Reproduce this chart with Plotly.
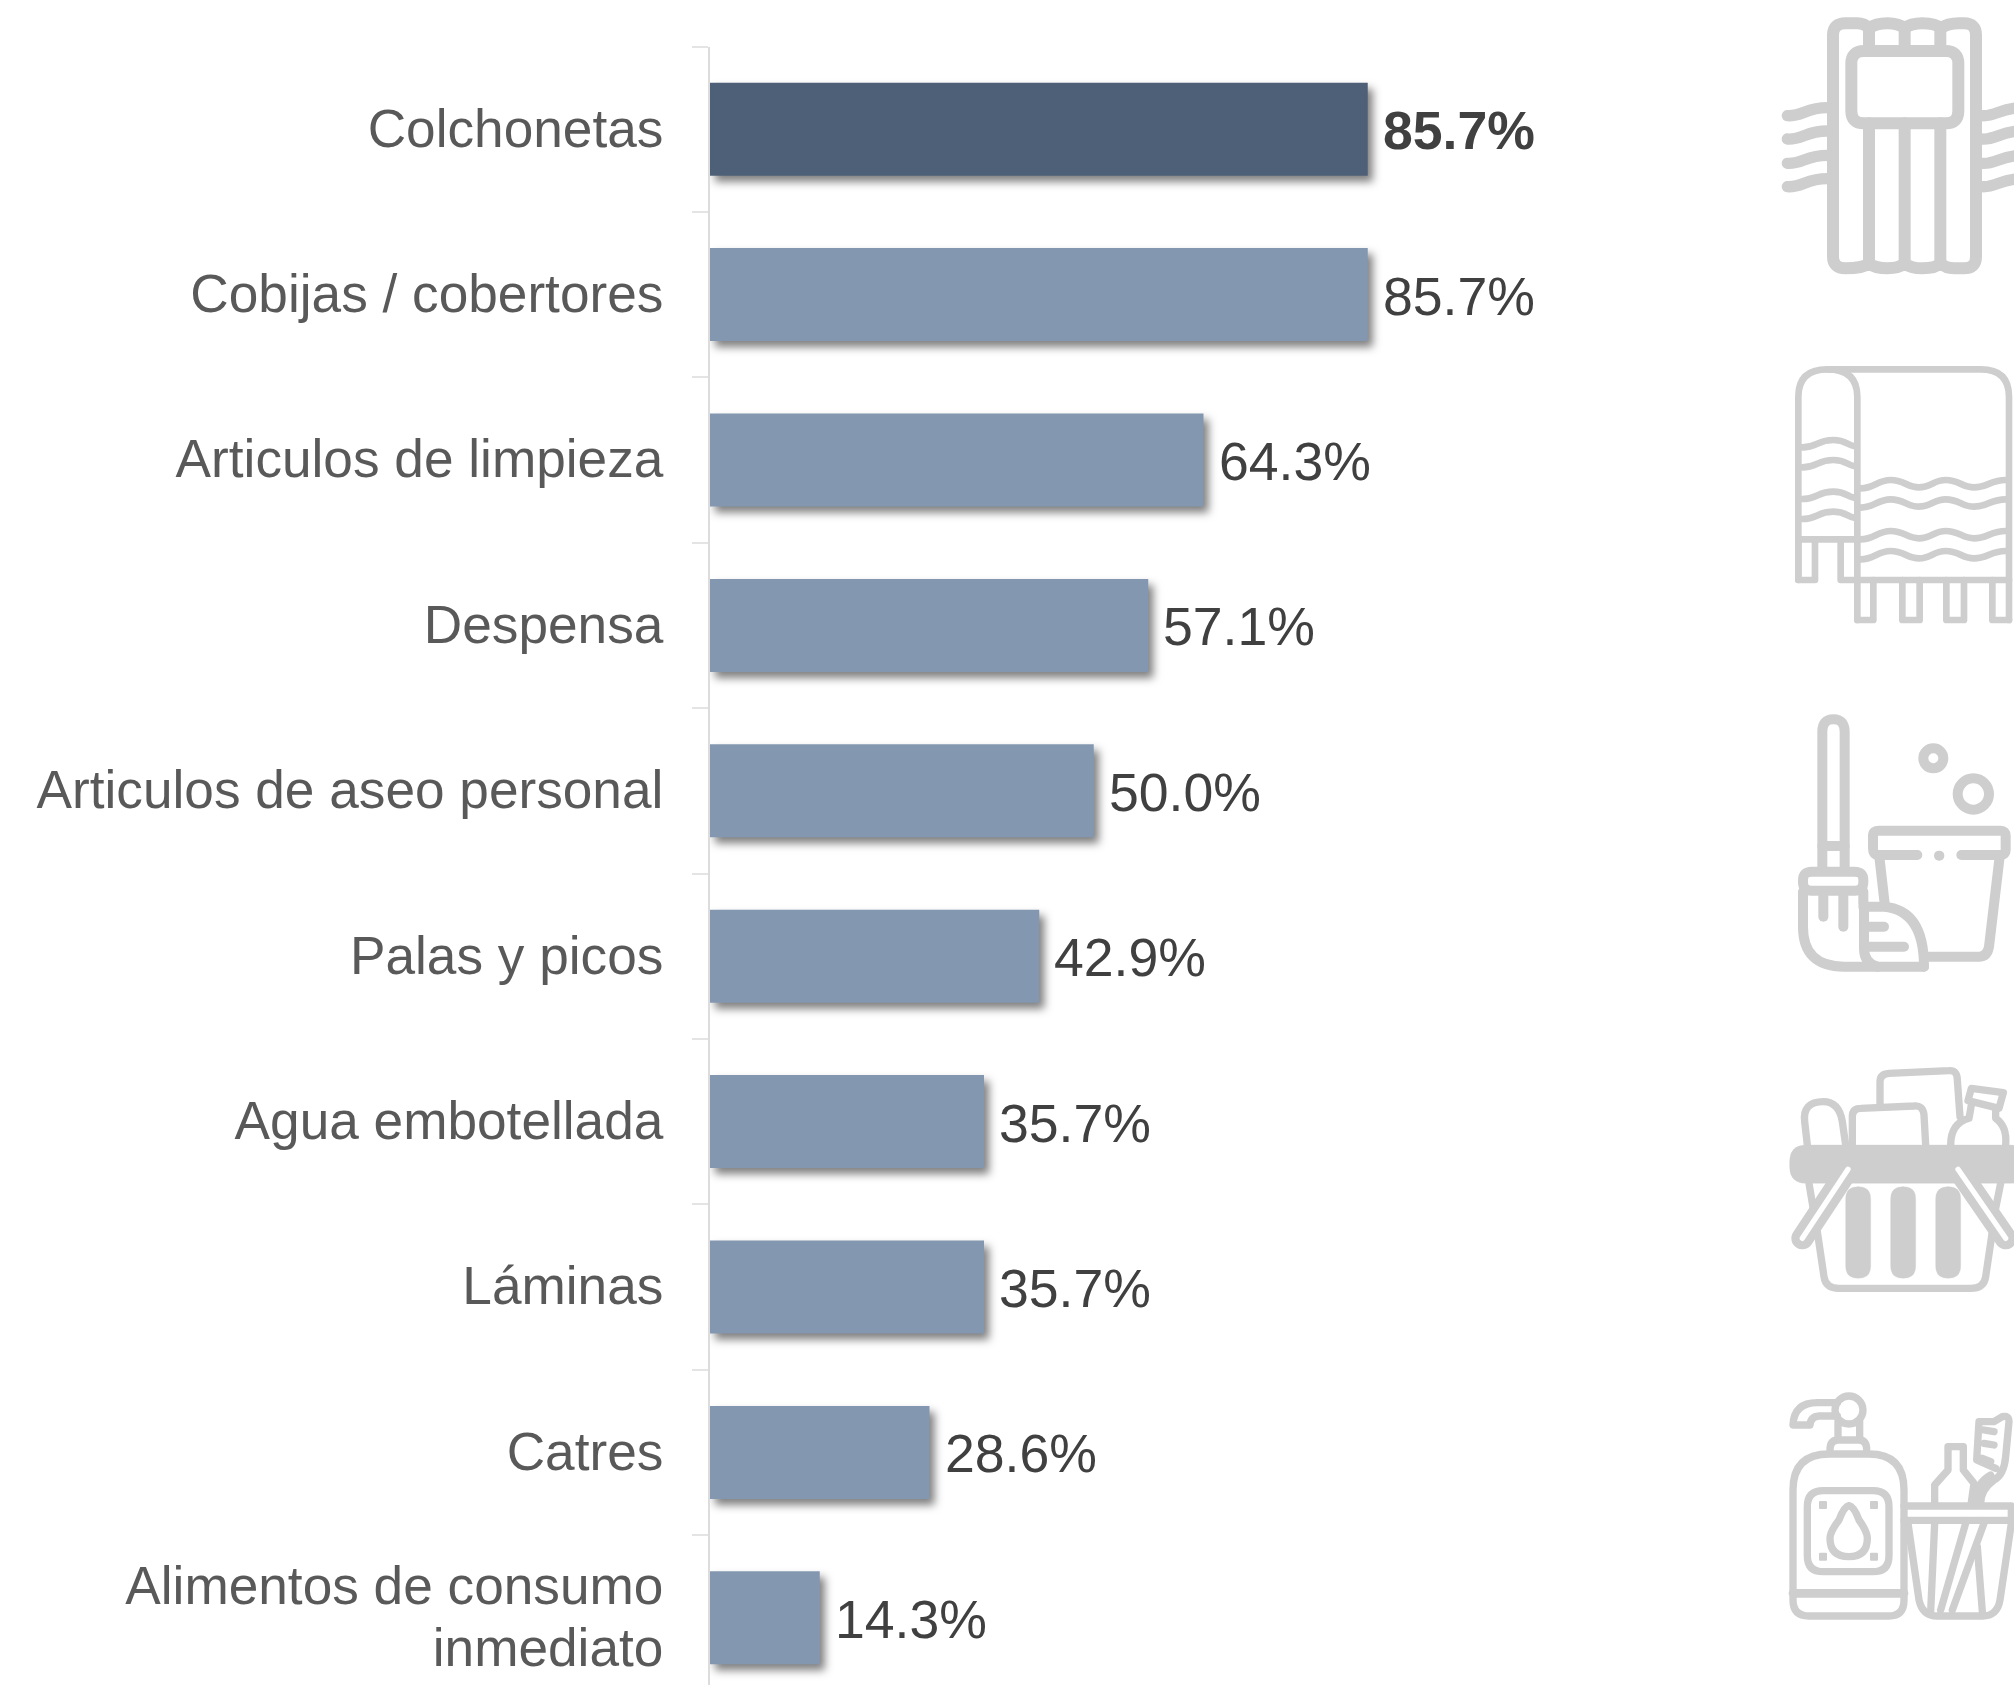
import re
import plotly.graph_objects as go

categories = ["Colchonetas", "Cobijas / cobertores", "Articulos de limpieza", "Despensa",
              "Articulos de aseo personal", "Palas y picos", "Agua embotellada", "Láminas",
              "Catres", "Alimentos de consumo<br>inmediato"]
values = [85.7, 85.7, 64.3, 57.1, 50.0, 42.9, 35.7, 35.7, 28.6, 14.3]
highlight = [True, False, False, False, False, False, False, False, False, False]

W, H = 2014, 1685
DARK, LIGHT = "#4E6077", "#8497B0"
ICON = "#CECECE"
FONT = "Liberation Sans"
AXIS_X, AXIS_TOP, BAND = 710.0, 46.5, 165.4
PX_PER_UNIT = 7.675


def to_paper(path, x0, y0):
    """Icon outlines are written in 3x zoom units from the origin (x0, y0)."""
    out, is_x = [], True
    for tok in re.findall(r"[MLCQZ]|[\d.]+", path):
        if tok in "MLCQZ":
            out.append(" " + tok)
            is_x = True
        else:
            if is_x:
                out.append(f"{(x0 + float(tok) / 3) / W:.5f}")
            else:
                out.append(f",{1 - (y0 + float(tok) / 3) / H:.5f} ")
            is_x = not is_x
    return "".join(out).strip()


def circle(cx, cy, r):
    k = 0.5523 * r
    return (f"M{cx - r},{cy} C{cx - r},{cy - k} {cx - k},{cy - r} {cx},{cy - r} "
            f"C{cx + k},{cy - r} {cx + r},{cy - k} {cx + r},{cy} "
            f"C{cx + r},{cy + k} {cx + k},{cy + r} {cx},{cy + r} "
            f"C{cx - k},{cy + r} {cx - r},{cy + k} {cx - r},{cy} Z")


def rrect(x1, y1, x2, y2, r):
    return (f"M{x1 + r},{y1} L{x2 - r},{y1} Q{x2},{y1} {x2},{y1 + r} L{x2},{y2 - r} Q{x2},{y2} {x2 - r},{y2} "
            f"L{x1 + r},{y2} Q{x1},{y2} {x1},{y2 - r} L{x1},{y1 + r} Q{x1},{y1} {x1 + r},{y1} Z")


shapes = []


def icon(y0, items):
    for it in items:
        path, width = it[0], it[1]
        fill = it[2] if len(it) > 2 else None
        color = it[3] if len(it) > 3 else ICON
        s = dict(type="path", xref="paper", yref="paper", path=to_paper(path, 1774, y0), layer="above",
                 line=dict(color=color, width=width / 3))
        if fill:
            s["fillcolor"] = fill
        shapes.append(s)


# Icon 1: mattress
m = 36
items = [("M177,770 L177,105 Q177,70 215,70 L250,70 Q272,70 285,85 Q305,70 340,70 Q375,70 392,85 Q410,70 445,70 "
          "Q485,70 500,85 Q520,70 555,70 L570,70 Q606,70 606,105 L606,770 Q606,805 570,805 L540,805 Q515,805 500,790 "
          "Q485,805 445,805 Q410,805 392,790 Q375,805 340,805 Q305,805 285,790 Q265,805 215,805 Q177,805 177,770 Z", m)]
for x in (285, 392, 499):
    items += [(f"M{x},85 L{x},150", m), (f"M{x},370 L{x},790", m)]
items.append((rrect(232, 153, 553, 370, 38), m))
for y in (347, 417, 490, 560):
    items.append((f"M40,{y} C85,{y + 3} 95,{y - 24} 160,{y - 24}", 34))
    items.append((f"M625,{y} C665,{y + 3} 680,{y - 24} 745,{y - 24}", 34))
icon(0, items)

# Icon 2: blanket
b = 20
items = [("M73,690 L73,140 Q73,58 160,58 L620,58 Q705,58 705,140 L705,810", b),
         ("M160,58 Q250,58 250,140 L250,810", b),
         ("M73,568 L250,568", b),
         ("M73,568 L73,690 L123,690 L123,568", b),
         ("M200,568 L200,690 L250,690", b),
         ("M250,690 L705,690", b),
         ("M250,810 L298,810 L298,690", b),
         ("M385,690 L385,810 L437,810 L437,690", b),
         ("M517,690 L517,810 L570,810 L570,690", b),
         ("M655,690 L655,810 L705,810", b)]
for y in (292, 352, 447, 507):
    items.append((f"M85,{y} C130,{y} 130,{y - 22} 178,{y - 22} C215,{y - 22} 220,{y - 7} 240,{y - 4}", b))
for y in (415, 473, 568, 628):
    items.append((f"M260,{y} C300,{y} 310,{y - 25} 350,{y - 25} C390,{y - 25} 400,{y - 3} 435,{y - 3} "
                  f"C470,{y - 3} 480,{y - 25} 515,{y - 25} C555,{y - 25} 565,{y - 3} 600,{y - 3} "
                  f"C640,{y - 3} 650,{y - 25} 695,{y - 25}", b))
icon(350, items)

# Icon 3: mop and bucket
c = 30
icon(700, [
    ("M145,505 L145,95 Q145,58 178,58 Q212,58 212,95 L212,505", c),
    ("M145,438 L212,438", c),
    (rrect(87, 515, 268, 572, 26), c),
    ("M87,575 L87,680 Q87,800 210,800 L450,800", c),
    ("M148,590 L148,650", c), ("M208,590 L208,680", c),
    ("M268,575 L268,610", c),
    ("M268,620 L330,620 Q450,630 450,800", c),
    ("M270,620 L270,745 Q270,790 310,800", c),
    ("M270,680 L330,680", c), ("M270,740 L390,740", c),
    ("M430,465 L312,465 Q297,465 297,445 L297,407 Q297,392 315,392 L680,392 Q695,392 695,407 L695,450 "
     "Q695,465 680,465 L562,465", c),
    ("M495,467 L496,467", c),
    ("M316,470 L332,610", c),
    ("M677,470 L645,740 Q640,770 615,770 L460,770", c),
    (circle(478, 175, 30), c),
    (circle(598, 282, 47), c),
])

# Icon 4: basket
d = 22
icon(1050, [
    ("M100,285 L92,215 Q85,155 148,155 Q195,155 205,215 L215,285", d),
    ("M235,285 L235,200 Q235,175 260,175 L420,168 Q447,165 450,195 L455,285", d),
    ("M318,165 L318,95 Q318,72 345,70 L525,62 Q550,60 550,90 L558,200", d),
    ("M592,115 L688,128 L675,175 L582,152 Z", d),
    ("M592,165 L585,205 Q530,220 530,285", d),
    ("M665,180 L665,205 Q700,230 695,285", d),
    ("M105,400 L120,490", d), ("M680,400 L662,490", d),
    ("M130,545 L150,680 Q155,715 195,715 L590,715 Q630,715 635,680 L655,545", d),
    (rrect(47, 285, 760, 400, 50), 1, ICON),
    (rrect(215, 410, 290, 685, 37), 1, ICON),
    (rrect(350, 410, 425, 685, 37), 1, ICON),
    (rrect(485, 410, 560, 685, 37), 1, ICON),
    ("M222,358 L85,565", 66),
    ("M222,358 L85,565", 16, None, "#FFFFFF"),
    ("M552,358 L695,565", 66),
    ("M552,358 L695,565", 16, None, "#FFFFFF"),
])

# Icon 5: soap and toothbrush
e = 22
items = [
    (circle(225, 90, 42), e),
    ("M190,68 L130,68 Q60,68 57,135 L108,135 Q110,110 135,108 L190,108", e),
    ("M192,125 L192,175", e), ("M257,125 L257,175", e),
    ("M168,210 Q168,180 192,180 L255,180 Q278,180 278,210", e),
    ("M57,330 Q57,222 165,222 L285,222 Q390,222 390,330 L390,660 Q390,708 345,708 L105,708 Q57,708 57,660 Z", e),
    ("M57,640 L390,640", 26),
    (rrect(100, 332, 345, 575, 48), e),
    ("M225,377 Q210,380 195,420 Q168,455 168,475 Q168,530 225,530 Q280,530 280,475 Q280,455 255,420 "
     "Q240,380 225,377 Z", e),
    ("M390,378 L712,378 L712,421 L390,421", e),
    ("M402,430 L435,660 Q445,708 490,708 L625,708 Q670,708 678,660 L712,430", e),
    ("M482,367 L482,315 L522,270 L522,200 L568,200 L568,270 L600,310 L592,367", e),
    ("M482,430 L470,695", e), ("M610,500 L625,695", e),
    ("M575,430 L500,690", e), ("M630,430 L535,690", e),
    ("M620,370 Q620,330 660,300 Q690,285 695,230 L705,125 Q705,105 685,110 L660,125 L615,125 L608,240 L665,265", e),
    ("M600,370 Q605,310 650,285", e),
    ("M630,150 L660,155", e), ("M630,190 L660,195", e), ("M625,235 L650,245", e),
]
for x, y in ((147, 375), (300, 375), (147, 530), (300, 530)):
    items.append((rrect(x - 10, y - 10, x + 10, y + 10, 1), 4, ICON))
icon(1380, items)

fig = go.Figure(go.Bar(
    x=values, y=categories, orientation="h",
    marker=dict(color=[DARK if h else LIGHT for h in highlight], line_width=0),
    hoverinfo="skip",
))

annotations = [dict(x=v, y=c, xref="x", yref="y", xanchor="left", yanchor="middle", xshift=13, yshift=-1,
                    showarrow=False, text=f"<b>{v:.1f}%</b>" if h else f"{v:.1f}%",
                    font=dict(family=FONT, size=53.6, color="#404040"))
               for v, c, h in zip(values, categories, highlight)]

fig.update_layout(
    width=W, height=H, margin=dict(l=0, r=0, t=0, b=0, autoexpand=False),
    paper_bgcolor="white", plot_bgcolor="white", showlegend=False, bargap=0.4375,
    shapes=shapes, annotations=annotations,
    xaxis=dict(domain=[AXIS_X / W, 1], range=[0, (W - AXIS_X) / PX_PER_UNIT], visible=False),
    yaxis=dict(domain=[0, 1 - AXIS_TOP / H], type="category", categoryorder="array", categoryarray=categories,
               range=[-0.5 + (H - AXIS_TOP) / BAND, -0.5], automargin=False,
               showline=True, linecolor="#DCDCDC", linewidth=2, showgrid=False, zeroline=False,
               ticks="outside", tickson="boundaries", ticklen=16, tickwidth=2, tickcolor="#E4E4E4",
               ticklabelstandoff=34, tickfont=dict(family=FONT, size=53.2, color="#595959")),
)

post = """
document.body.style.margin = '0';
document.querySelectorAll('.barlayer .point path').forEach(function (p) {
  p.style.filter = 'drop-shadow(5px 6px 4px rgba(0,0,0,0.5))';
});
document.querySelectorAll('.shapelayer path').forEach(function (p) {
  p.style.strokeLinecap = 'round';
  p.style.strokeLinejoin = 'round';
});
document.querySelectorAll('.ytick text').forEach(function (t) {
  var lines = t.querySelectorAll('tspan.line');
  if (lines.length === 2) {
    lines[0].setAttribute('dy', '3px');
    lines[1].setAttribute('dy', '65px');
  }
  [t].concat(Array.from(lines)).forEach(function (n) {
    if (n.hasAttribute('y')) { n.setAttribute('y', parseFloat(n.getAttribute('y')) - 1.3); }
  });
});
"""
fig.write_html("out.html", post_script=post, config={"displayModeBar": False})
